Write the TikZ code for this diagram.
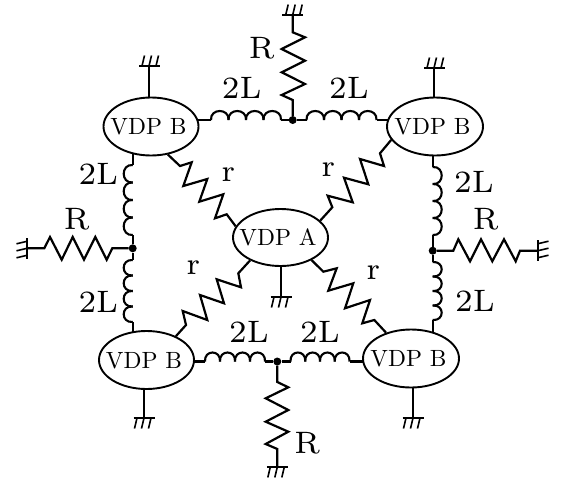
\documentclass[tikz,border=0pt]{standalone}
\usetikzlibrary{shapes.geometric,backgrounds}
\font\labf=cmr7 at 31pt
\font\vdpf=cmr10 at 23.5pt
\newcommand{\vdptext}[1]{\makebox[0pt]{\hspace*{-5pt}\vdpf #1}}
\tikzset{
  x=1pt,y=-1pt,
  wire/.style={line width=2.2pt,line join=miter},
  vdp/.style={draw,fill=white,ellipse,line width=1.9pt,minimum width=#1,minimum height=58pt,inner sep=0pt},
  dotn/.style={circle,fill=black,inner sep=0pt,minimum size=8pt},
  lab/.style={inner sep=0pt,font=\labf},
  pics/gnd/.style={code={
    \draw[line width=1.8pt] (-10.5,0) -- (10.5,0);
    \foreach \i in {-7,0,7} \draw[line width=1.6pt] (\i,0) -- (\i-2.5,10.5);
  }},
  pics/coilp/.style={code={
    \foreach \k in {0,1,2,3}
      \draw[line width=2.1pt] (\k*#1,0) .. controls (\k*#1-1,-12) and (\k*#1+#1+1,-12) .. (\k*#1+#1,0);
  }}
}
\begin{document}
\begin{tikzpicture}
\useasboundingbox (0,0) rectangle (561,482);
\node[vdp=95pt] (tl) at (151,126.5) {\vdptext{VDP B}};
\node[vdp=96pt] (tr) at (435,126.5) {\vdptext{VDP B}};
\node[vdp=95pt,minimum height=57pt] (a) at (280.5,237.5) {\vdptext{VDP A}};
\node[vdp=95pt] (bl) at (146.5,360) {\vdptext{VDP B}};
\node[vdp=96pt] (br) at (411,358.5) {\vdptext{VDP B}};
\node[dotn] (jt) at (292.7,120) {};
\node[dotn] (jl) at (132.7,248.3) {};
\node[dotn] (jr) at (432.7,250.7) {};
\node[dotn] (jb) at (277.3,361.5) {};
\coordinate (gt) at (292.7,15);
\coordinate (gl) at (27,248.3);
\coordinate (gr) at (538,250.7);
\coordinate (gb) at (277.3,467);
\coordinate (gtl) at (149,66);
\coordinate (gtr) at (434,68);
\coordinate (gbl) at (144,418);
\coordinate (gbr) at (413,418);
\coordinate (ga) at (281,297);
% inductor end points
\coordinate (c1s) at (211,120);   \coordinate (c1e) at (281,120);
\coordinate (c2s) at (306.5,120); \coordinate (c2e) at (376.5,120);
\coordinate (c3s) at (205,361.5); \coordinate (c3e) at (265,361.5);
\coordinate (c4s) at (290.5,361.5); \coordinate (c4e) at (349.5,361.5);
\coordinate (c5s) at (132.7,235); \coordinate (c5e) at (132.7,165);
\coordinate (c6s) at (132.7,322); \coordinate (c6e) at (132.7,260);
\coordinate (c7s) at (432.7,167); \coordinate (c7e) at (432.7,235);
\coordinate (c8s) at (432.7,262); \coordinate (c8e) at (432.7,320);
\begin{scope}[on background layer]
% resistors
\draw[wire] (gt) -- (292.7,32.3) -- (305,37.3) -- (281.7,49) -- (305,60.7) -- (281.7,72.3) -- (305,84) -- (281.7,95) -- (292.7,100) -- (jt);
\draw[wire] (gl) -- (44.3,248.3) -- (50,237) -- (61.7,259.7) -- (72.7,237) -- (84,259.7) -- (95.3,237) -- (106.7,259.7) -- (112.3,248.3) -- (jl);
\draw[wire] (jr) -- (453.3,250.7) -- (458.3,239.3) -- (470,261.3) -- (481,239.3) -- (492.3,261.3) -- (504,239.3) -- (515.7,261.3) -- (520,250.7) -- (gr);
\draw[wire] (jb) -- (277.3,382) -- (288.3,387.3) -- (265.7,398.3) -- (288.3,410) -- (265.7,421.7) -- (288.3,431.7) -- (265.7,444) -- (277.3,449) -- (gb);
\draw[wire] (tl.301) -- (180,166) -- (191.7,162.3) -- (183.3,186) -- (207.3,179) -- (199.3,201.7) -- (223.3,194.3) -- (215,218.3) -- (226.7,214.3) -- (a.166);
\draw[wire] (a.23) -- (332.3,207.3) -- (327.7,195.7) -- (352.7,202.3) -- (344,177.7) -- (368.3,184.3) -- (360,159) -- (384,166) -- (380,153.3) -- (tr.197);
\draw[wire] (a.217) -- (238.3,273.3) -- (241,287.3) -- (216.7,279.3) -- (224,303.3) -- (200,295) -- (207.3,320) -- (182.7,311) -- (186,325) -- (bl.39);
\draw[wire] (a.324) -- (323.3,271.7) -- (336.7,268.3) -- (328.3,290.7) -- (353.3,283.3) -- (345,308.3) -- (370,300) -- (362.3,323.3) -- (374.3,320) -- (br.134);
% inductor leads
\draw[wire] (tl |- jt) -- (c1s);
\draw[wire] (c1e) -- (jt) -- (c2s);
\draw[wire] (c2e) -- (tr |- jt);
\draw[wire] (bl |- jb) -- (c3s);
\draw[wire] (c3e) -- (jb) -- (c4s);
\draw[wire] (c4e) -- (br |- jb);
\draw[wire] (jl |- tl) -- (c5e);
\draw[wire] (c5s) -- (jl) -- (c6e);
\draw[wire] (c6s) -- (jl |- bl);
\draw[wire] (jr |- tr) -- (c7s);
\draw[wire] (c7e) -- (jr) -- (c8s);
\draw[wire] (c8e) -- (jr |- br);
% ground stems
\draw[wire] (gtl) -- (gtl |- tl);
\draw[wire] (gtr) -- (gtr |- tr);
\draw[wire] (gbl) -- (gbl |- bl);
\draw[wire] (gbr) -- (gbr |- br);
\draw[wire] (ga) -- (ga |- a);
\end{scope}
% inductor coils
\pic at (c1s) {coilp=17.5};
\pic at (c2s) {coilp=17.5};
\pic at (c3s) {coilp=15};
\pic at (c4s) {coilp=14.75};
\pic[rotate=90] at (c5s) {coilp=17.5};
\pic[rotate=90] at (c6s) {coilp=15.5};
\pic[rotate=-90] at (c7s) {coilp=17};
\pic[rotate=-90] at (c8s) {coilp=14.5};
% grounds
\pic[rotate=180] at (gt) {gnd};
\pic[rotate=180] at (gtl) {gnd};
\pic[rotate=180] at (gtr) {gnd};
\pic at (gbl) {gnd};
\pic at (gbr) {gnd};
\pic at (ga) {gnd};
\pic at (gb) {gnd};
\pic[rotate=-90,xscale=-1] at (gl) {gnd};
\pic[rotate=90,xscale=-1] at (gr) {gnd};
% labels
\node[lab] (r1) at (261.7,47.7) {R};
\node[lab] (l1) at (241.7,88.3) {2L};
\node[lab] (l2) at (349,88.3) {2L};
\node[lab] (l3) at (98.3,174) {2L};
\node[lab] (l4) at (474,182) {2L};
\node[lab] (r2) at (76.7,219.3) {R};
\node[lab] (r3) at (485.7,219.3) {R};
\node[lab] (l5) at (98.3,301.7) {2L};
\node[lab] (l6) at (475,301) {2L};
\node[lab] (l7) at (249,332) {2L};
\node[lab] (l8) at (320,332) {2L};
\node[lab] (r4) at (307.3,443.3) {R};
\node[lab] (s1) at (228.3,175) {r};
\node[lab] (s2) at (328.3,170) {r};
\node[lab] (s3) at (193.3,268.3) {r};
\node[lab] (s4) at (373.3,273.3) {r};
\end{tikzpicture}
\end{document}
